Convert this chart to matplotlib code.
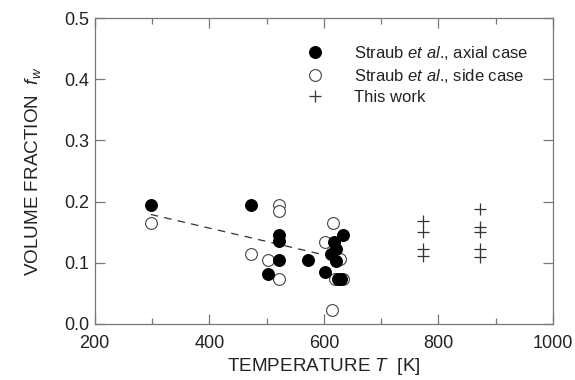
import matplotlib
matplotlib.use("Agg")
import matplotlib.pyplot as plt
from matplotlib.ticker import MultipleLocator

plt.rcParams['font.family'] = ['Liberation Sans', 'DejaVu Sans']
plt.rcParams['mathtext.fontset'] = 'custom'
plt.rcParams['mathtext.rm'] = 'Liberation Sans'
plt.rcParams['mathtext.it'] = 'Liberation Sans:italic'

# Straub et al., axial case (filled)
axial_T = [298, 473, 522, 522, 522, 503, 573, 633, 618, 622, 612, 622, 602, 624, 630]
axial_f = [0.194, 0.194, 0.146, 0.135, 0.104, 0.082, 0.104, 0.145, 0.134, 0.122, 0.114, 0.103, 0.085, 0.073, 0.073]

# Straub et al., side case (open)
side_T = [298, 473, 522, 522, 503, 522, 616, 602, 628, 620, 634, 614]
side_f = [0.165, 0.115, 0.194, 0.185, 0.104, 0.074, 0.165, 0.134, 0.106, 0.073, 0.073, 0.023]

# This work
work_T = [773, 773, 773, 773, 873, 873, 873, 873, 873]
work_f = [0.168, 0.150, 0.123, 0.111, 0.188, 0.158, 0.150, 0.123, 0.110]

# dashed trend line
trend_T = [298, 623]
trend_f = [0.179, 0.108]

text_col = '#222222'
spine_col = '#777777'

fig = plt.figure(figsize=(5.75, 3.8), dpi=100)
ax = fig.add_axes([0.1647, 0.1474, 0.797, 0.8052])

ax.plot(trend_T, trend_f, linestyle=(0, (6, 5)), color='#333333', lw=0.9, zorder=1)
ax.plot(side_T, side_f, 'o', ms=8.5, mfc='white', mec='#444444', mew=0.8,
        label=r'Straub $\mathit{et\ al}$., side case', zorder=2)
ax.plot(axial_T, axial_f, 'o', ms=8.5, mfc='black', mec='black', mew=0.8,
        label=r'Straub $\mathit{et\ al}$., axial case', zorder=3)
ax.plot(work_T, work_f, '+', ms=9, mec='#333333', mew=0.9,
        label='This work', zorder=3)

ax.set_xlim(200, 1000)
ax.set_ylim(0, 0.5)
ax.xaxis.set_major_locator(MultipleLocator(200))
ax.xaxis.set_minor_locator(MultipleLocator(100))
ax.yaxis.set_major_locator(MultipleLocator(0.1))
ax.yaxis.set_major_formatter(matplotlib.ticker.FormatStrFormatter('%.1f'))

for s in ax.spines.values():
    s.set_color(spine_col)
    s.set_linewidth(0.9)
ax.tick_params(which='both', direction='in', top=True, right=True,
               color=spine_col, labelcolor=text_col, labelsize=13, width=0.9)
ax.tick_params(which='major', length=7)
ax.tick_params(which='minor', length=4)
ax.tick_params(axis='x', pad=8)
ax.tick_params(axis='y', pad=4)

ax.set_xlabel(r'TEMPERATURE $T$  [K]', fontsize=13.6, color=text_col, labelpad=3)
ax.set_ylabel(r'VOLUME FRACTION  $f_w$', fontsize=13.6, color=text_col, labelpad=15)

handles, labels = ax.get_legend_handles_labels()
order = [1, 0, 2]
ax.legend([handles[i] for i in order], [labels[i] for i in order],
          loc='upper left', bbox_to_anchor=(0.42, 0.965), frameon=False,
          fontsize=12, handlelength=1.5, handletextpad=1.6, labelspacing=0.3,
          labelcolor=text_col)

fig.savefig('out.png', dpi=100)
